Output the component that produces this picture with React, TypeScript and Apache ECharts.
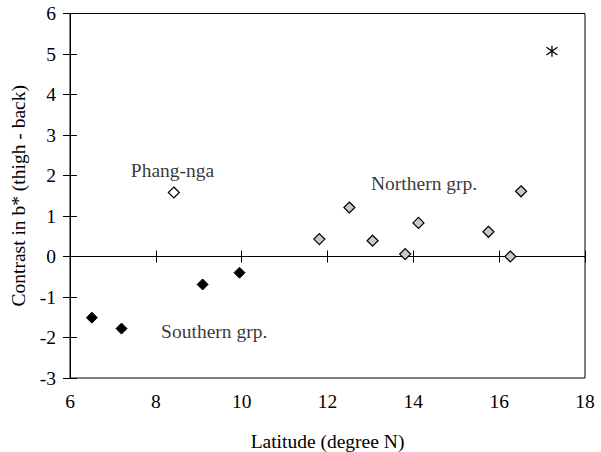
import React, { useEffect, useRef } from "react";
import * as echarts from "echarts";

const southern: [number, number][] = [
  [6.51, -1.51],
  [7.2, -1.78],
  [9.09, -0.69],
  [9.95, -0.4],
];
const phangNga: [number, number][] = [[8.42, 1.58]];
const northern: [number, number][] = [
  [11.81, 0.43],
  [12.51, 1.21],
  [13.05, 0.39],
  [13.81, 0.06],
  [14.12, 0.83],
  [15.75, 0.61],
  [16.26, 0.0],
  [16.51, 1.61],
];
const outlier: [number, number][] = [[17.23, 5.07]];
const annotations: { text: string; pos: [number, number] }[] = [
  { text: "Phang-nga", pos: [8.39, 2.12] },
  { text: "Northern grp.", pos: [14.25, 1.8] },
  { text: "Southern grp.", pos: [9.36, -1.86] },
];

const FONT = "Liberation Serif";
const FS = 19.5;

export default function App() {
  const ref = useRef<HTMLDivElement>(null);
  useEffect(() => {
    if (!ref.current) return;
    const chart = echarts.init(ref.current, undefined, { renderer: "svg" });
    const xBase = { type: "value", min: 6, max: 18, interval: 2, splitLine: { show: false } };
    chart.setOption({
      animation: false,
      grid: {
        left: 70,
        right: 16,
        top: 13.5,
        bottom: 74,
        show: true,
        borderColor: "#000",
        borderWidth: 1,
        outerBoundsMode: "none",
        containLabel: false,
      },
      xAxis: [
        {
          ...xBase,
          position: "bottom",
          axisLine: { show: false, onZero: false },
          axisTick: { show: false },
          axisLabel: { color: "#000", fontFamily: FONT, fontSize: FS, margin: 13 },
          name: "Latitude (degree N)",
          nameLocation: "middle",
          nameGap: 53,
          nameTextStyle: { color: "#000", fontFamily: FONT, fontSize: FS },
        },
        {
          ...xBase,
          position: "bottom",
          axisLine: { show: true, onZero: true, lineStyle: { color: "#000", width: 1 } },
          axisTick: { show: true, inside: true, length: 6, lineStyle: { color: "#000" } },
          axisLabel: { show: false },
        },
        {
          ...xBase,
          position: "bottom",
          axisLine: { show: false, onZero: true },
          axisTick: { show: true, inside: false, length: 6, lineStyle: { color: "#000" } },
          axisLabel: { show: false },
        },
      ],
      yAxis: [
        {
          type: "value",
          min: -3,
          max: 6,
          interval: 1,
          splitLine: { show: false },
          axisLine: { show: true, onZero: false, lineStyle: { color: "#000" } },
          axisTick: { show: true, inside: false, length: 7, lineStyle: { color: "#000" } },
          axisLabel: { color: "#000", fontFamily: FONT, fontSize: FS, margin: 14 },
          name: "Contrast in b* (thigh - back)",
          nameLocation: "middle",
          nameGap: 41,
          nameTextStyle: { color: "#000", fontFamily: FONT, fontSize: FS },
        },
        {
          type: "value",
          min: -3,
          max: 6,
          interval: 1,
          position: "left",
          splitLine: { show: false },
          axisLine: { show: false, onZero: false },
          axisTick: { show: true, inside: true, length: 7, lineStyle: { color: "#000" } },
          axisLabel: { show: false },
        },
      ],
      series: [
        {
          type: "scatter",
          data: southern,
          symbol: "diamond",
          symbolSize: 11,
          itemStyle: { color: "#000", borderColor: "#000", borderWidth: 1, opacity: 1 },
          z: 5,
        },
        {
          type: "scatter",
          data: phangNga,
          symbol: "diamond",
          symbolSize: 11,
          itemStyle: { color: "#fff", borderColor: "#000", borderWidth: 1.2, opacity: 1 },
          z: 5,
        },
        {
          type: "scatter",
          data: northern,
          symbol: "diamond",
          symbolSize: 11,
          itemStyle: { color: "#c8c8c8", borderColor: "#000", borderWidth: 1.2, opacity: 1 },
          z: 5,
        },
        {
          type: "scatter",
          data: outlier,
          symbol: "path://M5,0 L5,10 M0,1.5 L10,8.5 M0,8.5 L10,1.5",
          symbolSize: 11,
          itemStyle: { color: "none", borderColor: "#000", borderWidth: 1.3, opacity: 1 },
          z: 5,
        },
        {
          type: "scatter",
          data: annotations.map((a) => ({ value: a.pos, name: a.text })),
          symbolSize: 0,
          silent: true,
          label: {
            show: true,
            position: "inside",
            formatter: "{b}",
            color: "#000",
            fontFamily: FONT,
            fontSize: FS,
          },
        },
      ],
    });
    return () => chart.dispose();
  }, []);
  return (
    <div
      ref={ref}
      style={{ position: "absolute", left: 0, top: 0, width: 601, height: 452 }}
    />
  );
}
